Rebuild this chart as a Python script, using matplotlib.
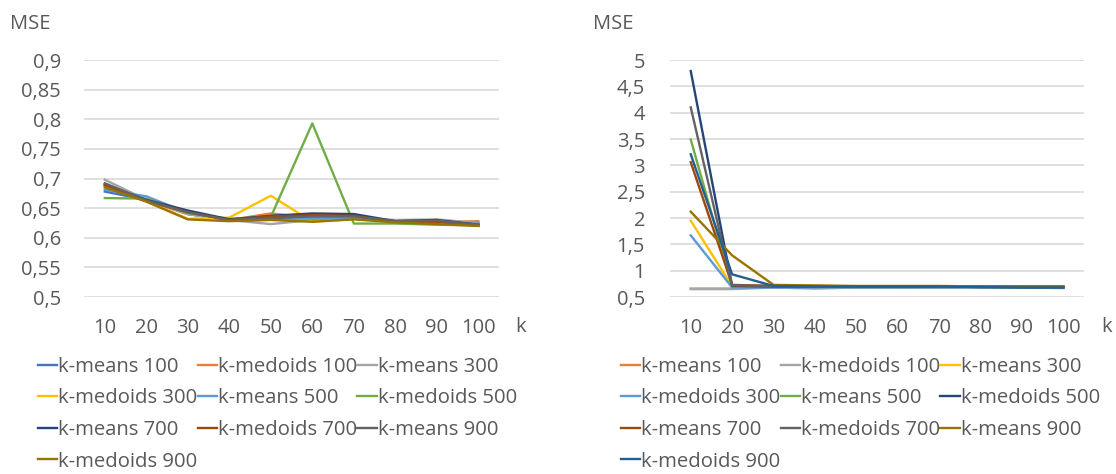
import numpy as np
import matplotlib.pyplot as plt

plt.rcParams['font.family'] = ['Open Sans', 'DejaVu Sans']

k = ['10', '20', '30', '40', '50', '60', '70', '80', '90', '100']

names = ['k-means 100', 'k-medoids 100', 'k-means 300', 'k-medoids 300', 'k-means 500',
         'k-medoids 500', 'k-means 700', 'k-medoids 700', 'k-means 900', 'k-medoids 900']

# left chart (MSE vs k)
left_km100 = [0.678, 0.664, 0.640, 0.630, 0.632, 0.633, 0.634, 0.628, 0.628, 0.625]
left_kd100 = [0.686, 0.662, 0.640, 0.630, 0.641, 0.634, 0.636, 0.627, 0.626, 0.628]
left_km300 = [0.698, 0.664, 0.640, 0.630, 0.623, 0.630, 0.634, 0.630, 0.631, 0.625]
left_kd300 = [0.688, 0.662, 0.632, 0.634, 0.671, 0.627, 0.632, 0.628, 0.624, 0.622]
left_km500 = [0.681, 0.670, 0.642, 0.631, 0.634, 0.632, 0.634, 0.627, 0.628, 0.624]
left_kd500 = [0.667, 0.666, 0.642, 0.632, 0.635, 0.793, 0.624, 0.624, 0.622, 0.621]
left_km700 = [0.690, 0.664, 0.646, 0.631, 0.637, 0.641, 0.640, 0.628, 0.630, 0.622]
left_kd700 = [0.689, 0.662, 0.643, 0.630, 0.636, 0.638, 0.637, 0.627, 0.627, 0.620]
left_km900 = [0.692, 0.663, 0.643, 0.630, 0.633, 0.636, 0.636, 0.628, 0.629, 0.622]
left_kd900 = [0.685, 0.661, 0.631, 0.628, 0.630, 0.627, 0.631, 0.626, 0.623, 0.620]

# right chart
right_km100 = [0.66, 0.66, 0.69, 0.67, 0.68, 0.68, 0.69, 0.69, 0.69, 0.69]
right_kd100 = [0.65, 0.65, 0.68, 0.66, 0.68, 0.68, 0.68, 0.68, 0.68, 0.68]
right_km300 = [1.95, 0.70, 0.70, 0.69, 0.69, 0.69, 0.69, 0.69, 0.69, 0.69]
right_kd300 = [1.67, 0.68, 0.68, 0.68, 0.68, 0.68, 0.68, 0.68, 0.68, 0.67]
right_km500 = [3.49, 0.70, 0.71, 0.70, 0.70, 0.70, 0.70, 0.69, 0.69, 0.69]
right_kd500 = [4.79, 0.71, 0.70, 0.70, 0.70, 0.70, 0.70, 0.69, 0.69, 0.69]
right_km700 = [3.06, 0.73, 0.71, 0.71, 0.70, 0.70, 0.70, 0.70, 0.70, 0.70]
right_kd700 = [4.10, 0.72, 0.71, 0.70, 0.70, 0.70, 0.70, 0.70, 0.69, 0.69]
right_km900 = [2.12, 1.29, 0.73, 0.72, 0.71, 0.71, 0.71, 0.70, 0.70, 0.70]
right_kd900 = [3.21, 0.93, 0.71, 0.70, 0.70, 0.70, 0.70, 0.69, 0.68, 0.68]

left_series = [left_km100, left_kd100, left_km300, left_kd300, left_km500,
               left_kd500, left_km700, left_kd700, left_km900, left_kd900]
right_series = [right_km100, right_kd100, right_km300, right_kd300, right_km500,
                right_kd500, right_km700, right_kd700, right_km900, right_kd900]

left_colors = ['#4472C4', '#ED7D31', '#A5A5A5', '#FFC000', '#5B9BD5',
               '#70AD47', '#264478', '#9E480E', '#636363', '#997300']
right_colors = ['#ED7D31', '#A5A5A5', '#FFC000', '#5B9BD5', '#70AD47',
                '#264478', '#9E480E', '#636363', '#997300', '#255E91']

txt = '#595959'
fs = 14.5
lfs = 14.6

fig = plt.figure(figsize=(11.16, 4.74), dpi=100)
ax1 = fig.add_axes([0.0753, 0.3734, 0.3719, 0.5])
ax2 = fig.add_axes([0.6004, 0.3734, 0.371, 0.5])

x = np.arange(len(k))
order = [0, 3, 6, 9, 1, 4, 7, 2, 5, 8]


def style(ax, ylim, yticks, ylabels, ypad):
    ax.set_xlim(-0.5, 9.5)
    ax.set_ylim(*ylim)
    ax.set_yticks(yticks)
    ax.set_yticklabels(ylabels)
    ax.set_xticks(x)
    ax.set_xticklabels(k)
    for s in ax.spines.values():
        s.set_visible(False)
    ax.grid(axis='y', color='#D9D9D9', lw=1.2)
    ax.set_axisbelow(True)
    ax.tick_params(length=0, labelsize=fs, labelcolor=txt)
    ax.tick_params(axis='y', pad=ypad)
    ax.tick_params(axis='x', pad=15)


style(ax1, (0.5, 0.9), np.arange(0.5, 0.91, 0.05),
      [f'{v:.2f}'.rstrip('0').replace('.', ',') for v in np.arange(0.5, 0.91, 0.05)], 16.5)
style(ax2, (0.5, 5), np.arange(0.5, 5.01, 0.5),
      [f'{v:g}'.replace('.', ',') for v in np.arange(0.5, 5.01, 0.5)], 18)

h1 = []
for s, c, n in zip(left_series, left_colors, names):
    h1 += ax1.plot(x, s, color=c, lw=1.7, label=n)
h2 = []
for s, c, n in zip(right_series, right_colors, names):
    h2 += ax2.plot(x, s, color=c, lw=1.7, label=n)

for ax, h, xa in [(ax1, h1, 38 / 1116), (ax2, h2, 621 / 1116)]:
    hs = [h[i] for i in order]
    leg = fig.legend(hs, [hh.get_label() for hh in hs], ncol=3, loc='upper left',
                     bbox_to_anchor=(xa, 0.247), frameon=False, fontsize=lfs,
                     handlelength=0.96, handletextpad=0.05, columnspacing=0.0,
                     labelspacing=0.57, borderaxespad=0, borderpad=0)
    for t in leg.get_texts():
        t.set_color(txt)

fig.text(0.009, 0.949, 'MSE', fontsize=fs, color=txt, va='center')
fig.text(0.531, 0.949, 'MSE', fontsize=fs, color=txt, va='center')
fig.text(515 / 1116, 0.31, 'k', fontsize=fs, color=txt, va='center')
fig.text(1101 / 1116, 0.31, 'k', fontsize=fs, color=txt, va='center')

fig.savefig('out.png', dpi=100, facecolor='white')
